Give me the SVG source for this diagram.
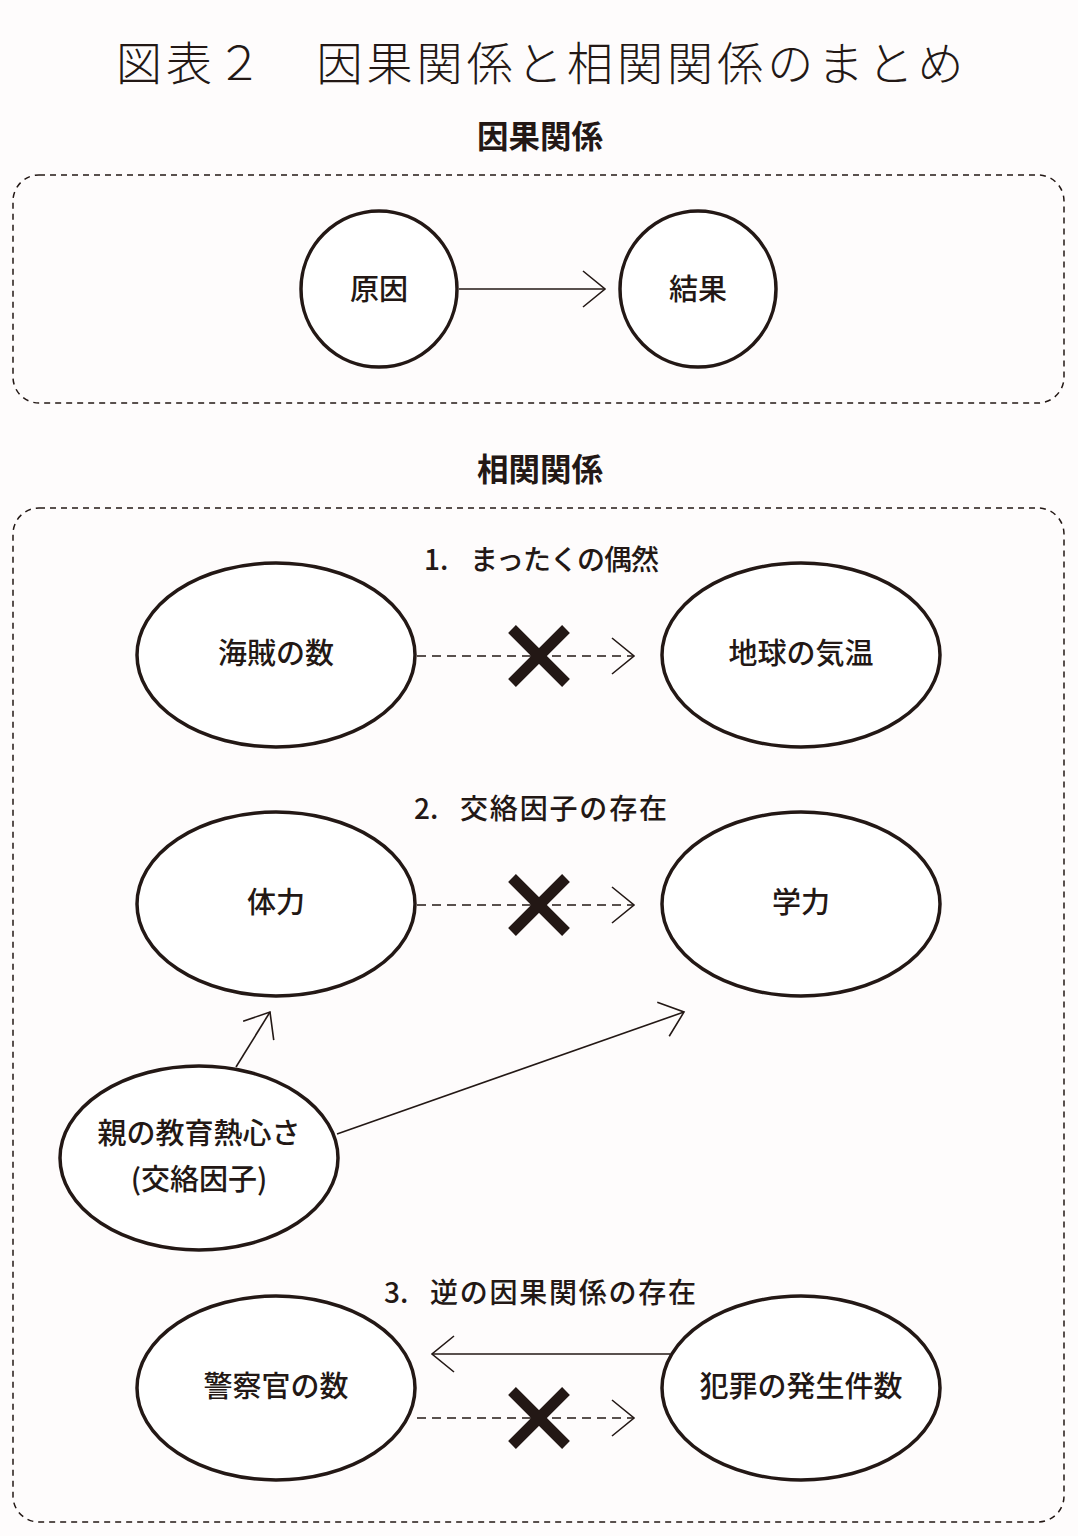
<svg xmlns="http://www.w3.org/2000/svg" width="1078" height="1536" viewBox="0 0 1078 1536">
<defs>
<style>
text{font-family:"Noto Sans CJK JP","Noto Sans",sans-serif;fill:#231815}
.title{font-size:46px;font-weight:300;letter-spacing:4.1px}
.head{font-size:31.5px;font-weight:700;text-anchor:middle}
.sub{font-size:28px;font-weight:500}
.lbl{font-size:29px;font-weight:500;text-anchor:middle}
.node{fill:#fff;stroke:#231815;stroke-width:3.5}
.box{fill:none;stroke:#231815;stroke-width:1.5;stroke-dasharray:6 5}
.arr{fill:none;stroke:#231815;stroke-width:1.6}
.dash{fill:none;stroke:#231815;stroke-width:1.6;stroke-dasharray:9 6}
.x{stroke:#231815;stroke-width:11}
</style>
<marker id="ah" markerUnits="userSpaceOnUse" markerWidth="30" markerHeight="40" viewBox="-25 -20 30 40" refX="0" refY="0" orient="auto" overflow="visible">
<path d="M-22,-18 L0,0 L-22,18" fill="none" stroke="#231815" stroke-width="1.6"/>
</marker>
</defs>
<rect width="1078" height="1536" fill="#fefcfc"/>
<text class="title" x="116" y="80">図表２　因果関係と相関関係のまとめ</text>
<text class="head" x="540" y="148">因果関係</text>
<rect class="box" x="13" y="175" width="1051" height="228" rx="26"/>
<text class="head" x="540" y="481">相関関係</text>
<rect class="box" x="13" y="508" width="1051" height="1014" rx="26"/>
<text class="sub" y="570"><tspan x="424">1.</tspan><tspan x="470" textLength="189" lengthAdjust="spacing">まったくの偶然</tspan></text>
<text class="sub" y="819"><tspan x="414">2.</tspan><tspan x="460" textLength="207" lengthAdjust="spacing">交絡因子の存在</tspan></text>
<text class="sub" y="1303"><tspan x="384">3.</tspan><tspan x="430" textLength="266" lengthAdjust="spacing">逆の因果関係の存在</tspan></text>
<g id="connectors">
<line class="arr" x1="459" y1="289" x2="605" y2="289" marker-end="url(#ah)"/>
<line class="dash" x1="417" y1="656" x2="634" y2="656" marker-end="url(#ah)"/>
<line class="dash" x1="417" y1="905" x2="634" y2="905" marker-end="url(#ah)"/>
<line class="dash" x1="417" y1="1418" x2="634" y2="1418" marker-end="url(#ah)"/>
<line class="arr" x1="236" y1="1067" x2="270" y2="1012" marker-end="url(#ah)"/>
<line class="arr" x1="337" y1="1134" x2="684" y2="1012" marker-end="url(#ah)"/>
<line class="arr" x1="670" y1="1354" x2="432" y2="1354" marker-end="url(#ah)"/>
<g id="x1"><line class="x" x1="512" y1="629" x2="566" y2="683"/><line class="x" x1="566" y1="629" x2="512" y2="683"/></g>
<g id="x2"><line class="x" x1="512" y1="878" x2="566" y2="932"/><line class="x" x1="566" y1="878" x2="512" y2="932"/></g>
<g id="x3"><line class="x" x1="512" y1="1391" x2="566" y2="1445"/><line class="x" x1="566" y1="1391" x2="512" y2="1445"/></g>
</g>
<g id="n-cause"><circle class="node" cx="379" cy="289" r="78"/><text class="lbl" x="379" y="300">原因</text></g>
<g id="n-effect"><circle class="node" cx="698" cy="289" r="78"/><text class="lbl" x="698" y="300">結果</text></g>
<g id="n-pirates"><ellipse class="node" cx="276" cy="655" rx="139" ry="92"/><text class="lbl" x="276" y="664">海賊の数</text></g>
<g id="n-temp"><ellipse class="node" cx="801" cy="655" rx="139" ry="92"/><text class="lbl" x="801" y="664">地球の気温</text></g>
<g id="n-stamina"><ellipse class="node" cx="276" cy="904" rx="139" ry="92"/><text class="lbl" x="276" y="913">体力</text></g>
<g id="n-academic"><ellipse class="node" cx="801" cy="904" rx="139" ry="92"/><text class="lbl" x="801" y="913">学力</text></g>
<g id="n-parents"><ellipse class="node" cx="199" cy="1158" rx="139" ry="92"/><text class="lbl" x="199" y="1144">親の教育熱心さ</text><text class="lbl" x="199" y="1190">(交絡因子)</text></g>
<g id="n-police"><ellipse class="node" cx="276" cy="1388" rx="139" ry="92"/><text class="lbl" x="276" y="1397">警察官の数</text></g>
<g id="n-crime"><ellipse class="node" cx="801" cy="1388" rx="139" ry="92"/><text class="lbl" x="801" y="1397">犯罪の発生件数</text></g>
</svg>
